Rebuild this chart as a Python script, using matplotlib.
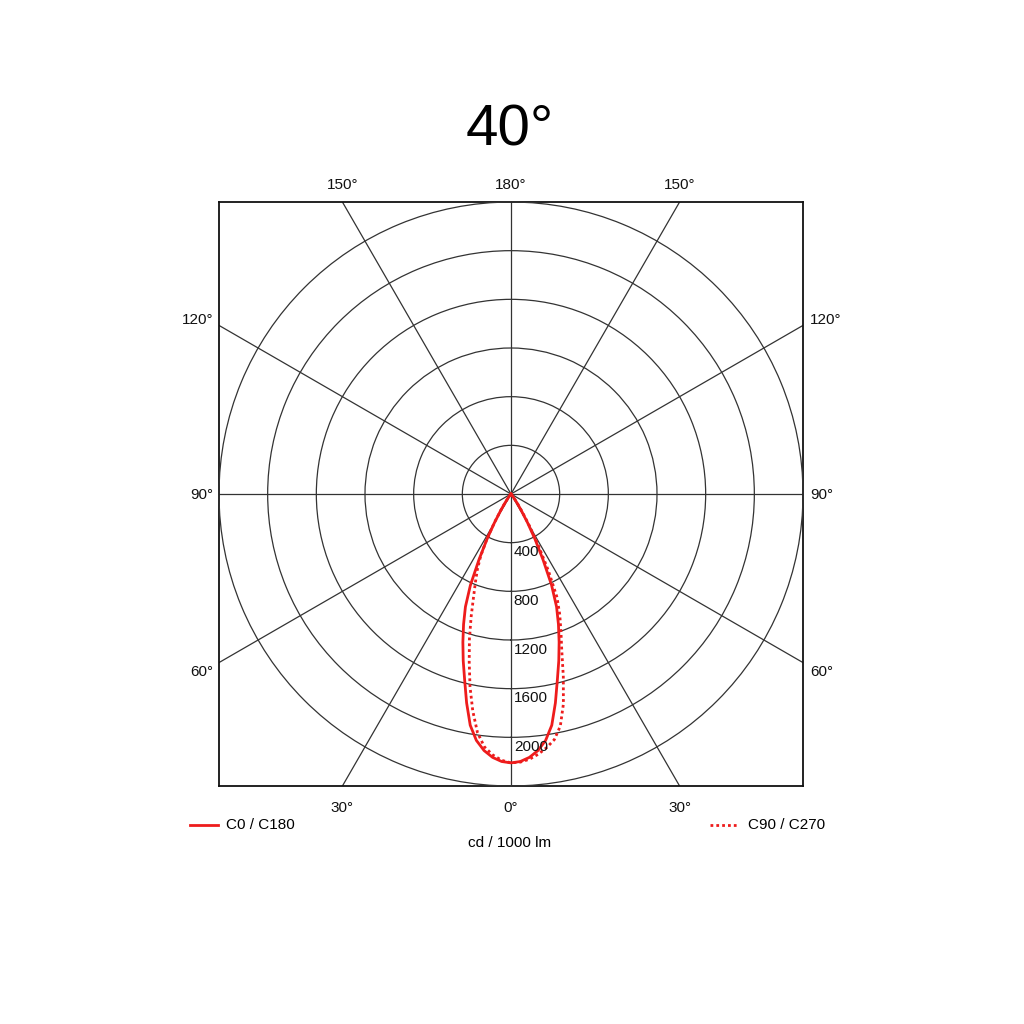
import numpy as np
import matplotlib
matplotlib.use("Agg")
import matplotlib.pyplot as plt
from matplotlib.lines import Line2D
from matplotlib.transforms import ScaledTranslation

plt.rcParams['font.family'] = ['Liberation Sans', 'DejaVu Sans']

# gamma angles (deg) from nadir, same set on both sides
gamma = [0, 2, 4, 6, 8, 10, 12, 14, 16, 18, 20, 22, 24, 26, 28, 30,
         32, 34, 36, 38, 40, 44]
# cd / 1000 lm
c0_c180 = [2210, 2200, 2170, 2120, 2045, 1930, 1755, 1575, 1425, 1280, 1140, 1000,
           820, 600, 420, 270, 160, 90, 45, 20, 8, 0]
c90 = [2210, 2205, 2185, 2150, 2105, 2050, 1950, 1780, 1560, 1350, 1200, 1070,
       930, 700, 480, 310, 180, 100, 50, 22, 8, 0]
c270 = [2210, 2190, 2150, 2090, 1980, 1810, 1620, 1420, 1240, 1060, 900, 780,
        680, 570, 430, 280, 160, 90, 45, 20, 8, 0]

ring_values = [400, 800, 1200, 1600, 2000]
r_max = 2400
spoke_angles = [0, 30, 60, 90, 120, 150]
red = '#ee1c1c'
grid_col = '#333333'

fig = plt.figure(figsize=(10.24, 10.24), dpi=100)
W = 1024
rect = [219 / W, (W - 202 - 584) / W, 584 / W, 584 / W]

# square box with the spokes running out to its edges
ax_c = fig.add_axes(rect)
ax_c.set_xlim(-r_max, r_max)
ax_c.set_ylim(-r_max, r_max)
ax_c.set_xticks([])
ax_c.set_yticks([])
for s in ax_c.spines.values():
    s.set_linewidth(1.3)
    s.set_color('#111111')
for a in spoke_angles:
    t = np.deg2rad(a)
    ax_c.axline((0, 0), (np.sin(t), -np.cos(t)), color=grid_col, lw=0.9)

# angle labels around the box
lab_kw = dict(fontsize=11, color='#111111')
for a in [30, 150]:
    t = np.deg2rad(a)
    x = r_max * np.tan(t) if a < 90 else r_max * np.tan(np.pi - t)
    y = -r_max if a < 90 else r_max
    dy = -10.5 if a < 90 else 7
    va = 'top' if a < 90 else 'bottom'
    for sx in (-1, 1):
        ax_c.annotate(f'{a}°', (sx * x, y), xytext=(0, dy), textcoords='offset points',
                      ha='center', va=va, **lab_kw)
ax_c.annotate('0°', (0, -r_max), xytext=(0, -10.5), textcoords='offset points',
              ha='center', va='top', **lab_kw)
ax_c.annotate('180°', (0, r_max), xytext=(0, 7), textcoords='offset points',
              ha='center', va='bottom', **lab_kw)
side_shift = {60: -7, 90: -1, 120: 4}
for a in [60, 90, 120]:
    t = np.deg2rad(a)
    y = -r_max / np.tan(t) if a != 90 else 0
    ax_c.annotate(f'{a}°', (-r_max, y), xytext=(-4, side_shift[a]), textcoords='offset points',
                  ha='right', va='center', **lab_kw)
    ax_c.annotate(f'{a}°', (r_max, y), xytext=(5, side_shift[a]), textcoords='offset points',
                  ha='left', va='center', **lab_kw)

# polar part: rings and curves
ax = fig.add_axes(rect, projection='polar')
ax.set_facecolor('none')
ax.set_theta_zero_location('S')
ax.set_ylim(0, r_max)
ax.set_thetagrids([])
ax.set_rgrids(ring_values, labels=[])
ax.yaxis.grid(True, color=grid_col, lw=0.9)
ax.spines['polar'].set_color(grid_col)
ax.spines['polar'].set_linewidth(0.9)

g = np.array(gamma)
th = np.deg2rad(np.concatenate([-g[::-1], g[1:]]))
r_solid = np.concatenate([np.array(c0_c180)[::-1], np.array(c0_c180)[1:]])
r_dot = np.concatenate([np.array(c270)[::-1], np.array(c90)[1:]])
ax.plot(th, r_solid, color=red, lw=2.0, zorder=5, solid_joinstyle='round')
ax.plot(th, r_dot, color=red, lw=2.0, ls=(0, (1, 1.1)), zorder=5)

off = ScaledTranslation(2 / 72, -2 / 72, fig.dpi_scale_trans)
for v in ring_values:
    ax.text(0, v, str(v), transform=ax.transData + off, ha='left', va='top',
            fontsize=11, color='#111111', zorder=6)

fig.text(510 / W, 1 - 131 / W, '40°', fontsize=42, ha='center', va='center')

# legend keys
fig.add_artist(Line2D([190 / W, 218 / W], [1 - 825 / W] * 2, color=red, lw=2.0))
fig.text(226 / W, 1 - 825 / W, 'C0 / C180', fontsize=11, ha='left', va='center')
fig.add_artist(Line2D([710 / W, 738 / W], [1 - 825 / W] * 2, color=red, lw=2.0,
                      ls=(0, (1, 1.1))))
fig.text(748 / W, 1 - 825 / W, 'C90 / C270', fontsize=11, ha='left', va='center')
fig.text(510 / W, 1 - 843 / W, 'cd / 1000 lm', fontsize=11, ha='center', va='center')

fig.savefig('out.png', dpi=100, facecolor='white')
